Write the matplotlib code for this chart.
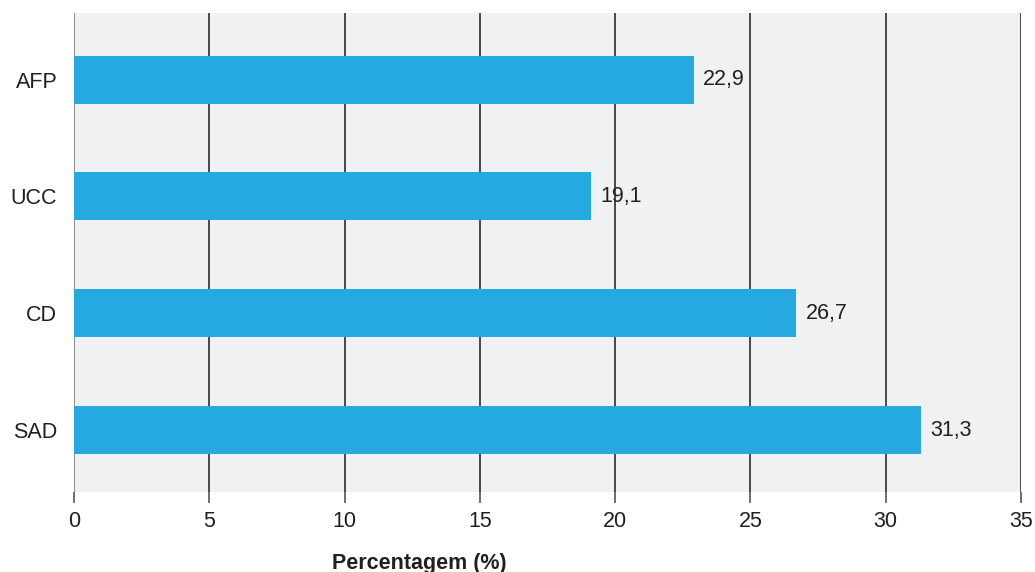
import matplotlib

matplotlib.use("Agg")
import matplotlib.pyplot as plt

categories = ["SAD", "CD", "UCC", "AFP"]
values = [31.3, 26.7, 19.1, 22.9]
value_labels = ["31,3", "26,7", "19,1", "22,9"]
xticks = [0, 5, 10, 15, 20, 25, 30, 35]

BAR = "#25a9e0"
BG = "#f0f1f3"
GRID = "#2b2b2b"
TXT = "#231f20"

plt.rcParams["font.family"] = ["Liberation Sans", "DejaVu Sans"]

fig = plt.figure(figsize=(10.35, 5.72), dpi=100)
W, H = 1035, 572
ax = fig.add_axes([74 / W, 1 - 492 / H, (1021 - 74) / W, (492 - 13) / H])
ax.set_facecolor(BG)

ypos = list(range(len(categories)))
ax.barh(ypos, values, height=0.41, color=BAR, zorder=3)
for y, v, lab in zip(ypos, values, value_labels):
    ax.text(v + 0.35, y, lab, va="center", ha="left", fontsize=15.5,
            color=TXT, zorder=1)

ax.set_xlim(0, 35)
ax.set_ylim(-0.53, 3.57)
ax.set_xticks(xticks)
ax.set_xticklabels([str(t) for t in xticks], fontsize=15.5, color=TXT)
ax.set_yticks(ypos)
ax.set_yticklabels(categories, fontsize=15.5, color=TXT)
ax.xaxis.grid(True, color=GRID, linewidth=1.2)
ax.set_axisbelow(False)
for i, gl in enumerate(ax.get_xgridlines()):
    gl.set_zorder(2)
    if i == 0:
        gl.set_color("#7a7a7a")
ax.tick_params(axis="x", length=8, width=1.2, color="#555555", pad=6)
ax.tick_params(axis="y", length=0, pad=12)
for s in ax.spines.values():
    s.set_visible(False)

fig.text(419 / W, 1 - 563 / H, "Percentagem (%)", ha="center", va="center",
         fontsize=15.5, fontweight="bold", color=TXT)

fig.savefig("out.png", dpi=100, facecolor="white")
